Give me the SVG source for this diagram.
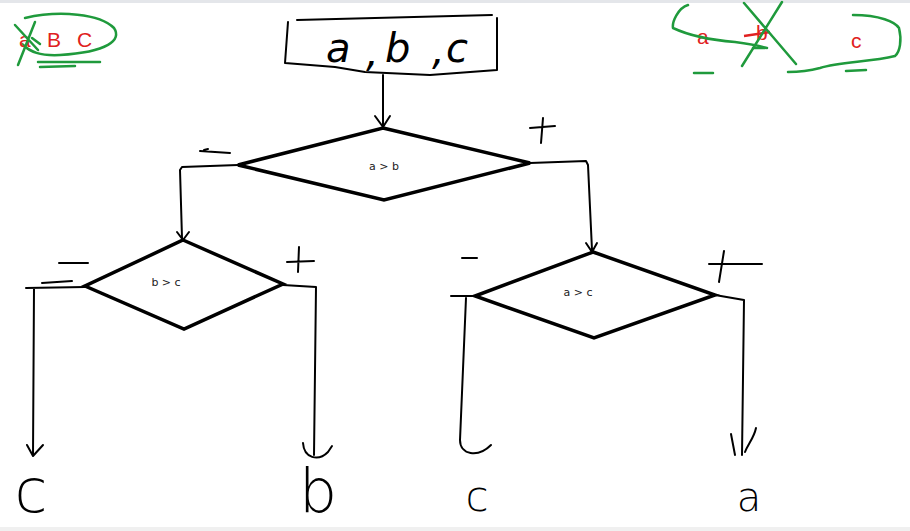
<svg xmlns="http://www.w3.org/2000/svg" width="910" height="531" viewBox="0 0 910 531">
<defs>
<style>
.ink{fill:none;stroke:#000;stroke-width:2;stroke-linecap:round;stroke-linejoin:round}
.dia{fill:#fff;stroke:#000;stroke-width:3.5;stroke-linejoin:miter}
.grn{fill:none;stroke:#1f9a3c;stroke-width:2.5;stroke-linecap:round;stroke-linejoin:round}
.red{fill:#e02020;font-family:"Liberation Sans",Arial,sans-serif;font-size:21px}
.lbl{fill:#222;font-family:"DejaVu Sans","Liberation Sans",sans-serif;font-size:11px;text-anchor:middle}
.hand{fill:#000;font-family:"DejaVu Sans","Liberation Sans",sans-serif;font-weight:200;font-style:italic}
.out{fill:#000;font-family:"DejaVu Sans","Liberation Sans",sans-serif;font-weight:200;text-anchor:middle}
</style>
</defs>
<rect width="910" height="531" fill="#fff"/>
<rect width="910" height="3" fill="#e4e6ea"/>
<rect y="527" width="910" height="4" fill="#f0f0f0"/>

<g id="note-left">
<path class="grn" d="M25 18 C60 10 100 14 114 28 C122 40 108 52 60 55 C40 56 30 52 22 44"/>
<path class="grn" d="M38 62 L100 62 M40 67 L75 66"/>
<text class="red" x="19" y="47">a</text>
<text class="red" x="47" y="47">B</text>
<text class="red" x="77" y="47">C</text>
<path class="grn" d="M15 25 L38 50 M35 22 L18 65 M32 38 L40 44"/>
</g>

<g id="note-right">
<text class="red" x="697" y="44">a</text>
<text class="red" x="756" y="40">b</text>
<path d="M744 36 L770 32" stroke="#e02020" stroke-width="2.5" fill="none"/>
<text class="red" x="851" y="48">c</text>
<path class="grn" d="M688 5 C678 8 672 22 673 28 C690 36 710 40 735 42 C750 44 760 46 767 48"/>
<path class="grn" d="M753 48 L765 48 M694 73 L713 73"/>
<path class="grn" d="M744 3 L796 64 M782 2 L742 66"/>
<path class="grn" d="M853 15 C880 15 895 22 899 28 C902 40 900 52 895 56 C870 62 840 62 820 68 C805 72 795 72 788 72"/>
<path class="grn" d="M846 71 L866 70"/>
</g>

<g id="input">
<path class="ink" d="M297 20 L492 15 M288 22 L285 63 L335 67 L365 72 L430 75 L497 70 L497 18"/>
<text class="hand" x="326" y="62" font-size="40">a</text>
<text class="hand" x="366" y="66" font-size="40">,</text>
<text class="hand" x="385" y="62" font-size="40">b</text>
<text class="hand" x="432" y="64" font-size="40">,</text>
<text class="hand" x="446" y="62" font-size="40">c</text>
</g>

<g id="connectors">
<path class="ink" d="M383 75 L383 127 M375 116 L383 127 L390 116"/>
<path class="ink" d="M238 165 L182 167 L180 170 L182 238 M177 232 L183 240 L189 232"/>
<path class="ink" d="M530 163 L586 161 L588 165 L592 250 M586 243 L592 252 L597 243"/>
<path class="ink" d="M85 287 L26 288 M34 288 L33 455 M27 445 L33 456 L43 445"/>
<path class="ink" d="M283 285 L316 287 L314 455 M303 443 C304 458 318 462 328 452 L332 446"/>
<path class="ink" d="M475 296 L451 296 M466 298 L460 440 M460 440 C460 455 478 458 491 445"/>
<path class="ink" d="M715 295 L744 300 L742 455 M731 434 L735 455 M745 452 C748 444 754 438 756 428"/>
</g>

<g id="d1">
<polygon class="dia" points="383,128 530,163 384,200 238,165"/>
<text class="lbl" x="384" y="170">a &gt; b</text>
</g>
<g id="d2">
<polygon class="dia" points="183,240 283,284 184,329 85,286"/>
<text class="lbl" x="166" y="286">b &gt; c</text>
</g>
<g id="d3">
<polygon class="dia" points="593,252 715,295 594,338 475,296"/>
<text class="lbl" x="578" y="296">a &gt; c</text>
</g>

<g id="signs">
<path class="ink" d="M200 151 L230 153 M204 150 L208 149"/>
<path class="ink" d="M530 128 L555 126 M543 118 L541 143"/>
<path class="ink" d="M59 263 L88 263 M42 283 L72 281"/>
<path class="ink" d="M287 262 L314 261 M299 247 L298 272"/>
<path class="ink" d="M462 258 L477 258"/>
<path class="ink" d="M709 264 L762 264 M724 251 L719 282"/>
</g>

<g id="outputs">
<text class="out" x="31" y="512" font-size="60">c</text>
<text class="out" x="318" y="512" font-size="60">b</text>
<text class="out" x="477" y="511" font-size="42">c</text>
<text class="out" x="749" y="511" font-size="40">a</text>
</g>
</svg>
